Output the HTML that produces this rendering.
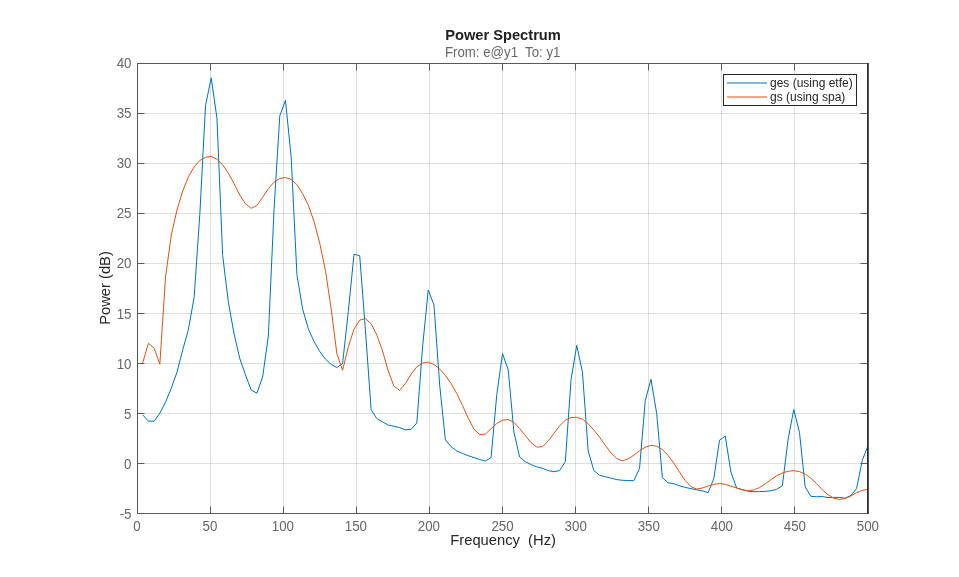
<!DOCTYPE html>
<html lang="en"><head><meta charset="utf-8"><title>Power Spectrum</title>
<style>html,body{margin:0;padding:0;background:#fff;overflow:hidden}body{width:959px;height:577px}</style></head>
<body>
<svg width="959" height="577" viewBox="0 0 959 577" style="display:block;font-family:'Liberation Sans',sans-serif">
<rect width="959" height="577" fill="#ffffff"/>
<g stroke="#262626" stroke-opacity="0.15" stroke-width="1" shape-rendering="crispEdges">
<line x1="210.5" y1="64" x2="210.5" y2="513"/>
<line x1="283.5" y1="64" x2="283.5" y2="513"/>
<line x1="356.5" y1="64" x2="356.5" y2="513"/>
<line x1="429.5" y1="64" x2="429.5" y2="513"/>
<line x1="502.5" y1="64" x2="502.5" y2="513"/>
<line x1="575.5" y1="64" x2="575.5" y2="513"/>
<line x1="648.5" y1="64" x2="648.5" y2="513"/>
<line x1="721.5" y1="64" x2="721.5" y2="513"/>
<line x1="794.5" y1="64" x2="794.5" y2="513"/>
<line x1="138" y1="113.5" x2="867" y2="113.5"/>
<line x1="138" y1="163.5" x2="867" y2="163.5"/>
<line x1="138" y1="213.5" x2="867" y2="213.5"/>
<line x1="138" y1="263.5" x2="867" y2="263.5"/>
<line x1="138" y1="313.5" x2="867" y2="313.5"/>
<line x1="138" y1="363.5" x2="867" y2="363.5"/>
<line x1="138" y1="413.5" x2="867" y2="413.5"/>
<line x1="138" y1="463.5" x2="867" y2="463.5"/>
</g>
<g fill="none" stroke-linejoin="round" stroke-linecap="butt">
<path d="M142.71,414.80 L148.42,421.20 L154.13,421.20 L159.84,413.10 L165.55,402.20 L171.27,388.20 L176.98,372.20 L182.69,350.10 L188.40,329.40 L194.11,297.50 L199.82,214.40 L205.53,105.60 L211.24,77.80 L216.95,118.20 L222.66,255.50 L228.38,302.20 L234.09,334.10 L239.80,358.50 L245.51,375.00 L251.22,390.00 L256.93,393.20 L262.64,376.90 L268.35,336.00 L274.06,209.30 L279.77,115.90 L285.48,100.35 L291.20,157.50 L296.91,274.50 L302.62,309.00 L308.33,328.80 L314.04,341.50 L319.75,351.50 L325.46,359.20 L331.17,364.40 L336.88,367.50 L342.59,363.50 L348.30,311.50 L354.02,254.20 L359.73,255.70 L365.44,330.50 L371.15,409.70 L376.86,418.60 L382.57,421.90 L388.28,425.10 L393.99,426.30 L399.70,427.60 L405.41,429.80 L411.12,429.40 L416.84,422.90 L422.55,347.00 L428.26,290.00 L433.97,305.00 L439.68,385.00 L445.39,439.80 L451.10,446.70 L456.81,451.00 L462.52,453.50 L468.23,455.70 L473.95,457.60 L479.66,459.50 L485.37,461.00 L491.08,457.60 L496.79,394.50 L502.50,353.50 L508.21,369.80 L513.92,432.00 L519.63,457.00 L525.34,461.70 L531.05,464.60 L536.77,466.80 L542.48,468.30 L548.19,470.60 L553.90,471.70 L559.61,470.60 L565.32,461.70 L571.03,379.70 L576.74,345.40 L582.45,372.20 L588.16,451.00 L593.88,470.60 L599.59,475.20 L605.30,476.80 L611.01,478.10 L616.72,479.60 L622.43,480.30 L628.14,480.50 L633.85,480.70 L639.56,468.30 L645.27,400.50 L650.98,379.30 L656.70,413.50 L662.41,477.70 L668.12,482.80 L673.83,483.70 L679.54,485.80 L685.25,487.40 L690.96,488.60 L696.67,489.90 L702.38,490.80 L708.09,492.70 L713.80,478.60 L719.52,440.20 L725.23,436.00 L730.94,472.10 L736.65,488.00 L742.36,489.50 L748.07,491.20 L753.78,491.60 L759.49,491.60 L765.20,491.40 L770.91,490.80 L776.62,489.30 L782.34,485.80 L788.05,439.80 L793.76,409.50 L799.47,432.40 L805.18,487.00 L810.89,496.30 L816.60,496.80 L822.31,496.50 L828.02,497.60 L833.73,497.40 L839.45,497.40 L845.16,498.20 L850.87,495.50 L856.58,488.50 L862.29,460.40 L868.00,445.60" stroke="#0072bd" stroke-width="1.0"/>
<path d="M142.71,362.90 L148.42,343.30 L154.13,348.10 L159.84,364.20 L165.55,277.00 L171.27,235.10 L176.98,210.00 L182.69,191.00 L188.40,176.90 L194.11,166.90 L199.82,160.50 L205.53,157.30 L211.24,156.40 L216.95,159.20 L222.66,164.80 L228.38,173.20 L234.09,183.60 L239.80,195.00 L245.51,203.90 L251.22,208.30 L256.93,205.40 L262.64,197.30 L268.35,188.70 L274.06,182.20 L279.77,178.50 L285.48,177.50 L291.20,179.50 L296.91,184.70 L302.62,193.60 L308.33,205.30 L314.04,221.50 L319.75,243.30 L325.46,270.60 L331.17,308.80 L336.88,353.80 L342.59,370.30 L348.30,346.80 L354.02,329.20 L359.73,320.10 L365.44,318.70 L371.15,323.80 L376.86,335.10 L382.57,351.00 L388.28,371.00 L393.99,386.30 L399.70,390.40 L405.41,383.50 L411.12,374.10 L416.84,366.80 L422.55,363.00 L428.26,362.10 L433.97,364.50 L439.68,369.00 L445.39,375.40 L451.10,383.60 L456.81,393.60 L462.52,405.50 L468.23,418.20 L473.95,429.00 L479.66,434.60 L485.37,434.00 L491.08,428.70 L496.79,423.50 L502.50,420.20 L508.21,419.50 L513.92,422.30 L519.63,428.50 L525.34,435.60 L531.05,442.60 L536.77,447.10 L542.48,446.70 L548.19,441.10 L553.90,433.40 L559.61,425.90 L565.32,420.20 L571.03,417.60 L576.74,417.30 L582.45,419.10 L588.16,423.70 L593.88,430.10 L599.59,437.20 L605.30,445.40 L611.01,452.90 L616.72,458.40 L622.43,460.80 L628.14,458.90 L633.85,455.20 L639.56,450.70 L645.27,447.20 L650.98,445.40 L656.70,446.20 L662.41,449.50 L668.12,455.50 L673.83,463.20 L679.54,472.10 L685.25,480.50 L690.96,486.70 L696.67,489.00 L702.38,488.00 L708.09,486.10 L713.80,484.30 L719.52,483.50 L725.23,484.30 L730.94,486.10 L736.65,488.00 L742.36,489.90 L748.07,490.80 L753.78,489.90 L759.49,487.60 L765.20,483.90 L770.91,479.60 L776.62,475.80 L782.34,473.00 L788.05,471.30 L793.76,470.60 L799.47,471.60 L805.18,474.00 L810.89,478.30 L816.60,483.60 L822.31,489.80 L828.02,494.70 L833.73,498.20 L839.45,499.40 L845.16,498.60 L850.87,496.00 L856.58,492.70 L862.29,490.40 L868.00,489.30" stroke="#d95319" stroke-width="1.0"/>
</g>
<g stroke="#595959" stroke-width="1" shape-rendering="crispEdges" fill="none">
<rect x="137.5" y="63.5" width="730" height="450"/>
<line x1="867.5" y1="63" x2="867.5" y2="514" stroke="#2e2e2e"/>
<line x1="868.5" y1="63" x2="868.5" y2="514" stroke="#555555"/>
</g>
<g fill="#595959">
<rect x="210" y="506.5" width="1" height="6.5"/>
<rect x="210" y="64" width="1" height="6.5"/>
<rect x="283" y="506.5" width="1" height="6.5"/>
<rect x="283" y="64" width="1" height="6.5"/>
<rect x="356" y="506.5" width="1" height="6.5"/>
<rect x="356" y="64" width="1" height="6.5"/>
<rect x="429" y="506.5" width="1" height="6.5"/>
<rect x="429" y="64" width="1" height="6.5"/>
<rect x="502" y="506.5" width="1" height="6.5"/>
<rect x="502" y="64" width="1" height="6.5"/>
<rect x="575" y="506.5" width="1" height="6.5"/>
<rect x="575" y="64" width="1" height="6.5"/>
<rect x="648" y="506.5" width="1" height="6.5"/>
<rect x="648" y="64" width="1" height="6.5"/>
<rect x="721" y="506.5" width="1" height="6.5"/>
<rect x="721" y="64" width="1" height="6.5"/>
<rect x="794" y="506.5" width="1" height="6.5"/>
<rect x="794" y="64" width="1" height="6.5"/>
<rect x="138" y="113" width="6.5" height="1"/>
<rect x="860.5" y="113" width="6.5" height="1"/>
<rect x="138" y="163" width="6.5" height="1"/>
<rect x="860.5" y="163" width="6.5" height="1"/>
<rect x="138" y="213" width="6.5" height="1"/>
<rect x="860.5" y="213" width="6.5" height="1"/>
<rect x="138" y="263" width="6.5" height="1"/>
<rect x="860.5" y="263" width="6.5" height="1"/>
<rect x="138" y="313" width="6.5" height="1"/>
<rect x="860.5" y="313" width="6.5" height="1"/>
<rect x="138" y="363" width="6.5" height="1"/>
<rect x="860.5" y="363" width="6.5" height="1"/>
<rect x="138" y="413" width="6.5" height="1"/>
<rect x="860.5" y="413" width="6.5" height="1"/>
<rect x="138" y="463" width="6.5" height="1"/>
<rect x="860.5" y="463" width="6.5" height="1"/>
</g>
<g fill="#666666" font-size="13.33px">
<text transform="translate(136.9,530.8) scale(1,1.09)" text-anchor="middle">0</text>
<text transform="translate(209.9,530.8) scale(1,1.09)" text-anchor="middle">50</text>
<text transform="translate(282.9,530.8) scale(1,1.09)" text-anchor="middle">100</text>
<text transform="translate(355.9,530.8) scale(1,1.09)" text-anchor="middle">150</text>
<text transform="translate(428.9,530.8) scale(1,1.09)" text-anchor="middle">200</text>
<text transform="translate(502.5,530.8) scale(1,1.09)" text-anchor="middle">250</text>
<text transform="translate(575.7,530.8) scale(1,1.09)" text-anchor="middle">300</text>
<text transform="translate(648.8,530.8) scale(1,1.09)" text-anchor="middle">350</text>
<text transform="translate(721.9,530.8) scale(1,1.09)" text-anchor="middle">400</text>
<text transform="translate(794.9,530.8) scale(1,1.09)" text-anchor="middle">450</text>
<text transform="translate(867.9,530.8) scale(1,1.09)" text-anchor="middle">500</text>
<text transform="translate(131.5,67.9) scale(1,1.09)" text-anchor="end">40</text>
<text transform="translate(131.5,117.9) scale(1,1.09)" text-anchor="end">35</text>
<text transform="translate(131.5,167.9) scale(1,1.09)" text-anchor="end">30</text>
<text transform="translate(131.5,217.9) scale(1,1.09)" text-anchor="end">25</text>
<text transform="translate(131.5,267.9) scale(1,1.09)" text-anchor="end">20</text>
<text transform="translate(131.5,318.8) scale(1,1.09)" text-anchor="end">15</text>
<text transform="translate(131.5,368.8) scale(1,1.09)" text-anchor="end">10</text>
<text transform="translate(131.5,418.8) scale(1,1.09)" text-anchor="end">5</text>
<text transform="translate(131.5,468.8) scale(1,1.09)" text-anchor="end">0</text>
<text transform="translate(131.5,518.8) scale(1,1.09)" text-anchor="end">-5</text>
</g>
<text transform="translate(503.1,545) scale(1.005,1.06)" text-anchor="middle" font-size="14.67px" fill="#262626" xml:space="preserve" style="white-space:pre">Frequency  (Hz)</text>
<text transform="translate(109.5,288) rotate(-90) scale(1.005,1.06)" text-anchor="middle" font-size="14.67px" fill="#262626">Power (dB)</text>
<text transform="translate(503,39.8) scale(1,1.05)" text-anchor="middle" font-size="14.67px" font-weight="bold" fill="#212121">Power Spectrum</text>
<text transform="translate(502.7,56.7) scale(0.994,1.05)" text-anchor="middle" font-size="13.33px" fill="#666666" xml:space="preserve" style="white-space:pre">From: e@y1  To: y1</text>
<rect x="723.5" y="74.5" width="133" height="31" fill="#ffffff" stroke="#262626" stroke-width="1" shape-rendering="crispEdges"/>
<line x1="727" y1="83" x2="767" y2="83" stroke="#0072bd" stroke-width="1.15"/>
<line x1="727" y1="97" x2="767" y2="97" stroke="#d95319" stroke-width="1.15"/>
<g font-size="12px" fill="#262626"><text x="770" y="87.0">ges (using etfe)</text><text x="770" y="101.1">gs (using spa)</text></g>
</svg>
</body></html>
